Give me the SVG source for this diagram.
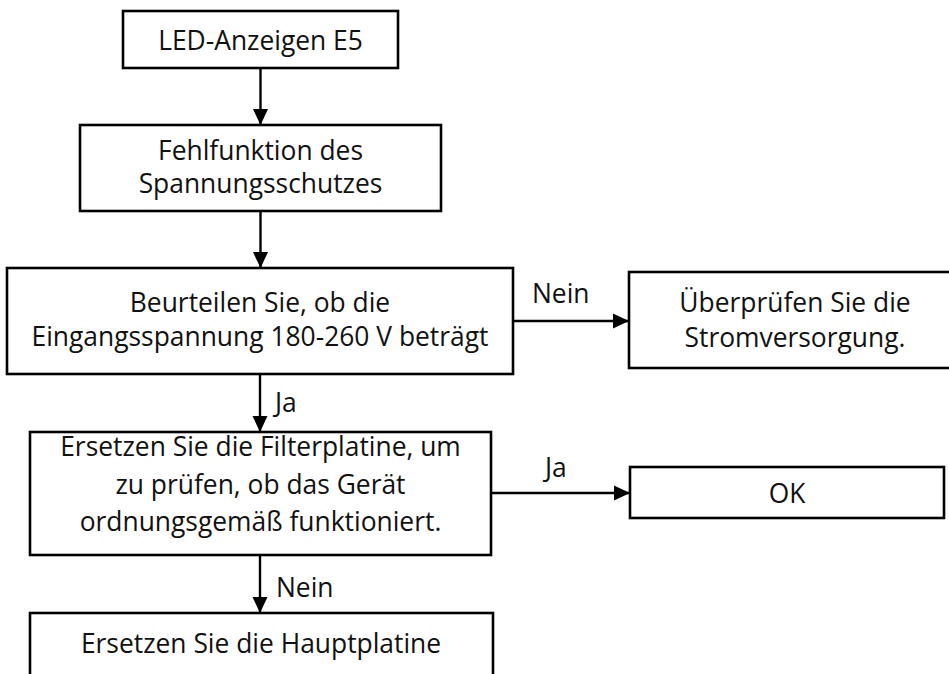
<svg xmlns="http://www.w3.org/2000/svg" width="949" height="674" viewBox="0 0 949 674">
<style>
.box{fill:#fff;stroke:#000;stroke-width:2.6}
.t{font-family:"Open Sans","Noto Sans",sans-serif;font-size:26.4px;fill:#111;text-anchor:middle}
.l{font-family:"Open Sans","Noto Sans",sans-serif;font-size:26.4px;fill:#111}
.c{stroke:#000;stroke-width:2.4;fill:none;marker-end:url(#ah)}
</style>
<defs>
<marker id="ah" markerUnits="userSpaceOnUse" markerWidth="18" markerHeight="18" viewBox="0 0 18 18" refX="17" refY="9" orient="auto">
<path d="M1,1.5 L17,9 L1,16.5 Z" fill="#000"/>
</marker>
</defs>
<rect width="949" height="674" fill="#fff"/>
<g id="connectors">
<line class="c" x1="260.5" y1="68" x2="260.5" y2="125"/>
<line class="c" x1="260.5" y1="211" x2="260.5" y2="268"/>
<line class="c" x1="260" y1="374" x2="260" y2="432"/>
<line class="c" x1="260" y1="555" x2="260" y2="613"/>
<line class="c" x1="513" y1="321" x2="629" y2="321"/>
<line class="c" x1="491" y1="493" x2="630" y2="493"/>
<text class="l" x="275" y="412">Ja</text>
<text class="l" x="276" y="597">Nein</text>
<text class="l" x="532" y="303">Nein</text>
<text class="l" x="545" y="477">Ja</text>
</g>
<g id="n1">
<rect class="box" x="123" y="11" width="275" height="57"/>
<text class="t" x="260.5" y="50">LED-Anzeigen E5</text>
</g>
<g id="n2">
<rect class="box" x="80" y="125" width="361" height="86"/>
<text class="t" x="260.5" y="160">Fehlfunktion des</text>
<text class="t" x="260.5" y="193">Spannungsschutzes</text>
</g>
<g id="n3">
<rect class="box" x="7" y="268" width="506" height="106"/>
<text class="t" x="260" y="312">Beurteilen Sie, ob die</text>
<text class="t" x="260" y="346">Eingangsspannung 180-260 V beträgt</text>
</g>
<g id="n4">
<rect class="box" x="629" y="272" width="330" height="96"/>
<text class="t" x="795" y="312">Überprüfen Sie die</text>
<text class="t" x="795" y="347">Stromversorgung.</text>
</g>
<g id="n5">
<rect class="box" x="30" y="432" width="461" height="123"/>
<text class="t" x="260.5" y="456">Ersetzen Sie die Filterplatine, um</text>
<text class="t" x="260.5" y="494">zu prüfen, ob das Gerät</text>
<text class="t" x="260.5" y="531">ordnungsgemäß funktioniert.</text>
</g>
<g id="n6">
<rect class="box" x="630" y="467" width="314" height="51"/>
<text class="t" x="787" y="503">OK</text>
</g>
<g id="n7">
<rect class="box" x="30" y="613" width="463" height="80"/>
<text class="t" x="261" y="653">Ersetzen Sie die Hauptplatine</text>
</g>
</svg>
